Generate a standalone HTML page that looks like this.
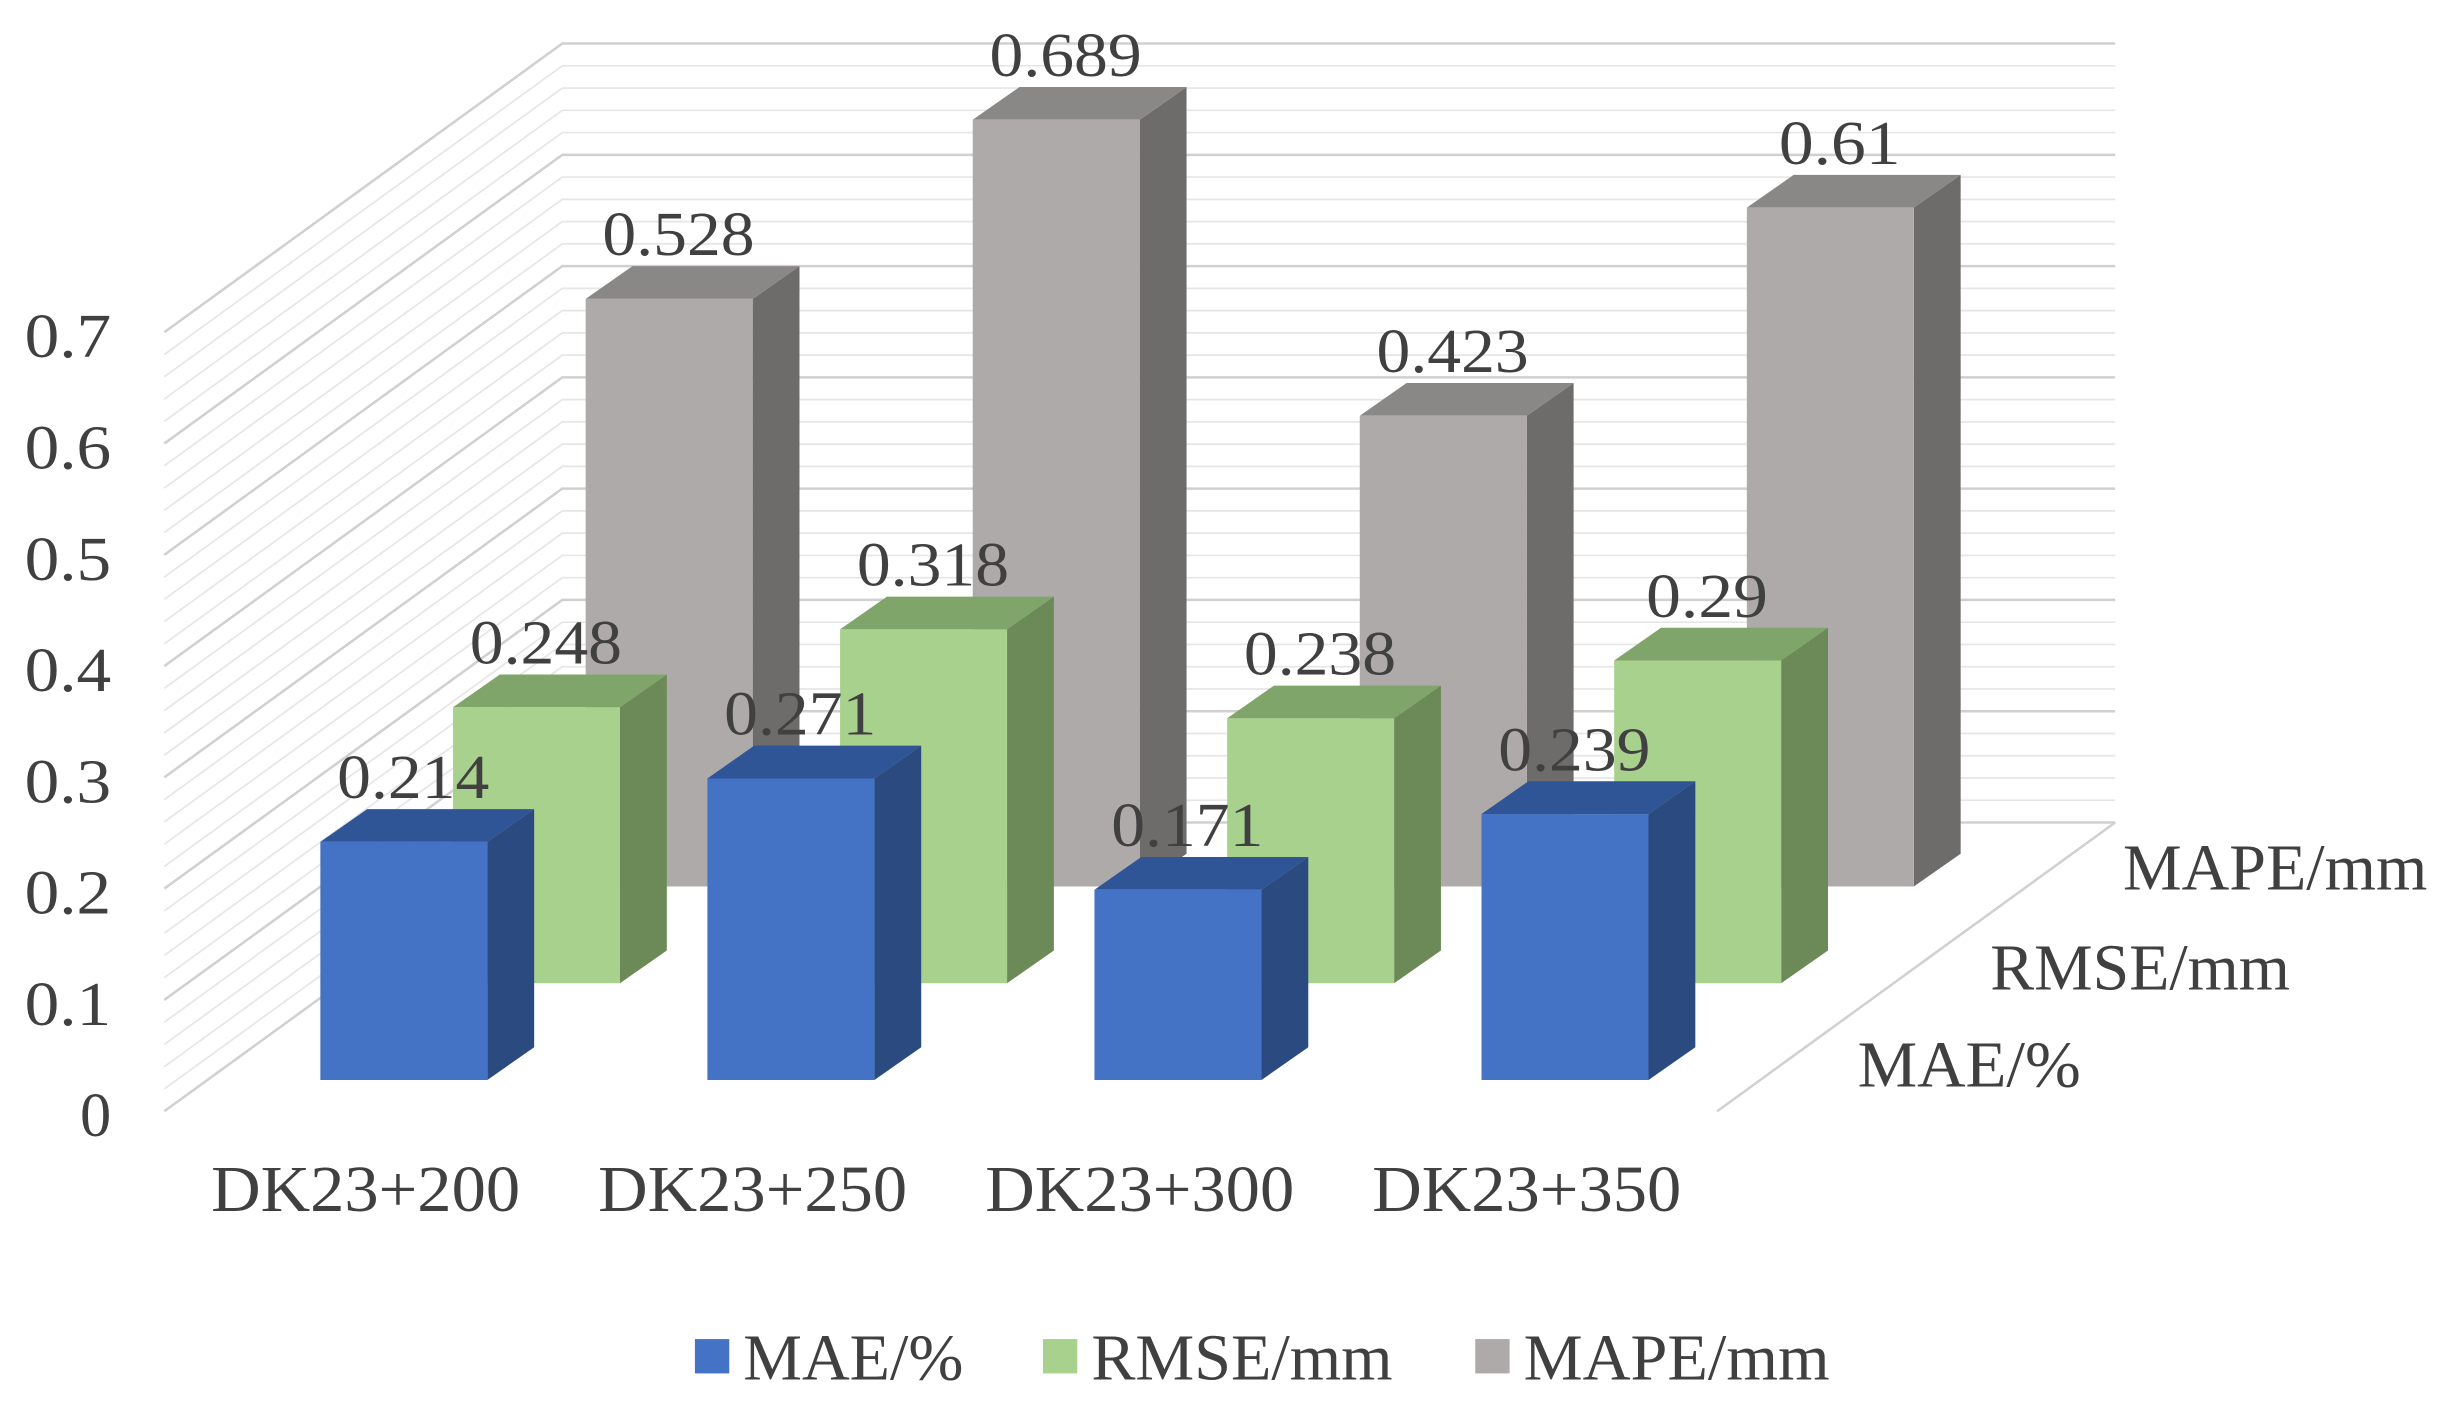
<!DOCTYPE html>
<html><head><meta charset="utf-8"><style>
html,body{margin:0;padding:0;background:#fff;}
svg{display:block;}
text{font-family:"Liberation Serif",serif;fill:#404040;}
</style></head><body>
<svg id="chart" width="2448" height="1414" viewBox="0 0 1568 906" xmlns="http://www.w3.org/2000/svg">
<g id="grid"></g>
<g id="yaxis"></g>
<g id="bars"></g>
<g id="labels"></g>
<g id="xaxis"></g>
<g id="legend"></g>
</svg>
<script>
const categories = ["DK23+200","DK23+250","DK23+300","DK23+350"];
const seriesNames = ["MAE/%","RMSE/mm","MAPE/mm"];
const maeValues = [0.214,0.271,0.171,0.239];
const rmseValues = [0.248,0.318,0.238,0.29];
const mapeValues = [0.528,0.689,0.423,0.61];
const yTicks = ["0","0.1","0.2","0.3","0.4","0.5","0.6","0.7"];

const NS = "http://www.w3.org/2000/svg";
const series = [maeValues, rmseValues, mapeValues];
const front = ["#4472C4","#A9D18E","#AEAAAA"];
const side = ["#2A4A80","#6B8A58","#6E6B6B"];
const top_ = ["#2F5597","#80A56A","#8A8787"];
const unit = 713;
const rowDX = 85, rowDY = -62;
const baseY = 692, baseX = 205, catStep = 248, barW = 107, dDX = 30, dDY = -21;
function yv(v, row){ return baseY + row*rowDY - v*unit; }
function xc(i, row){ return baseX + i*catStep + row*rowDX; }
function mk(tag, attrs, parent){ const e=document.createElementNS(NS,tag); for(const k in attrs) e.setAttribute(k,attrs[k]); parent.appendChild(e); return e; }
function wideText(parent, str, x, y, size, perChar, anchor){
  const e = mk('text', {x:x, y:y, 'font-size':size, 'text-anchor':anchor||'start', textLength:(str.length*perChar).toFixed(1), lengthAdjust:'spacingAndGlyphs'}, parent);
  e.textContent = str;
  return e;
}

const grid = document.getElementById('grid');
const fx = 105, fy0 = 712, bx = 360, by0 = 527, rx = 1355, floorRX = 1100;
for (let k = 0; k <= 35; k++) {
  const v = k*0.02;
  const major = k % 5 === 0;
  const p = mk('polyline', {points:`${fx},${fy0-v*unit} ${bx},${by0-v*unit} ${rx},${by0-v*unit}`, fill:'none', stroke: major?'#d0d0d0':'#e6e6e6', 'stroke-width': major?1.6:1.1}, grid);
  
  
}
const fl = mk('line', {x1:rx, y1:by0, x2:floorRX, y2:fy0, stroke:'#d0d0d0','stroke-width':1.6}, grid);



const ya = document.getElementById('yaxis');
yTicks.forEach((t, i) => {
  const e = wideText(ya, t, 71, fy0 - i*0.1*unit + 16, 40, t.length===1?20:18.5, 'end');
  
  
});

const bars = document.getElementById('bars');
for (let r = 2; r >= 0; r--) {
  series[r].forEach((v, i) => {
    const x = xc(i, r), yb = baseY + r*rowDY, yt = yv(v, r);
    const g = mk('g', {}, bars);
    
    
    mk('polygon', {points:`${x+barW},${yt} ${x+barW+dDX},${yt+dDY} ${x+barW+dDX},${yb+dDY} ${x+barW},${yb}`, fill:side[r]}, g);
    mk('polygon', {points:`${x},${yt} ${x+dDX},${yt+dDY} ${x+barW+dDX},${yt+dDY} ${x+barW},${yt}`, fill:top_[r]}, g);
    mk('rect', {x:x, y:yt, width:barW, height:yb-yt, fill:front[r]}, g);
    const t = wideText(g, String(v), x+barW/2+6, yt+dDY-7, 40, 19.5, 'middle');
    
    
  });
}

const xa = document.getElementById('xaxis');
categories.forEach((c, i) => {
  const e = wideText(xa, c, 234 + i*catStep, 776, 42, 24.75, 'middle');
  
  
});
const depthPos = [[1190,696],[1275,634],[1360,570]];
const depthW = [143,192,195];
seriesNames.forEach((s, r) => {
  const e = wideText(xa, s, depthPos[r][0], depthPos[r][1], 42, depthW[r]/s.length);
  
  
});

const lg = document.getElementById('legend');
const legX = [445, 668, 945];
const legW = [141,193,196];
seriesNames.forEach((s, r) => {
  const g = mk('g', {}, lg);
  
  
  mk('rect', {x:legX[r], y:858, width:22, height:22, fill:front[r]}, g);
  wideText(g, s, legX[r]+31, 884, 42, legW[r]/s.length);
});
</script>
</body></html>
